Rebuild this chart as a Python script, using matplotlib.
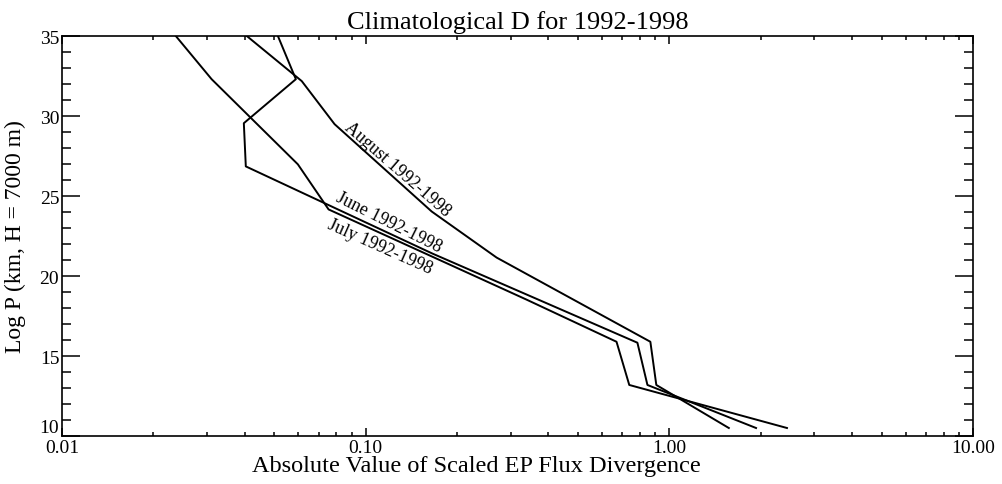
import numpy as np
import matplotlib.pyplot as plt
from matplotlib.ticker import FixedLocator, FixedFormatter, MultipleLocator, LogLocator, NullFormatter

plt.rcParams['font.family'] = ['Liberation Serif', 'DejaVu Serif']

# |scaled EP flux divergence| against log-pressure height
june_d = [0.0514, 0.0589, 0.0397, 0.0403, 0.166, 0.785, 0.847, 1.93]
june_z = [35.0, 32.3, 29.55, 26.85, 21.4, 15.83, 13.19, 10.5]

july_d = [0.0237, 0.0311, 0.0598, 0.0755, 0.339, 0.670, 0.738, 2.44]
july_z = [35.0, 32.3, 26.98, 24.16, 18.52, 15.89, 13.19, 10.5]

aug_d = [0.0406, 0.0616, 0.079, 0.165, 0.270, 0.866, 0.906, 1.57]
aug_z = [35.0, 32.18, 29.49, 24.03, 21.15, 15.89, 13.19, 10.5]

x_ticks = [0.01, 0.1, 1.0, 10.0]
x_ticklabels = ['0.01', '0.10', '1.00', '10.00']
y_ticks = [10, 15, 20, 25, 30, 35]

fig = plt.figure(figsize=(10.03, 4.85), dpi=100)
ax = fig.add_axes([62 / 1003, 1 - 437 / 485, 911 / 1003, 400 / 485])

for d, z in [(june_d, june_z), (july_d, july_z), (aug_d, aug_z)]:
    ax.plot(d, z, color='black', lw=1.4)

ax.set_xscale('log')
ax.set_xlim(0.01, 10.0)
ax.set_ylim(10, 35)

ax.xaxis.set_major_locator(FixedLocator(x_ticks))
ax.xaxis.set_major_formatter(FixedFormatter(x_ticklabels))
ax.xaxis.set_minor_locator(LogLocator(base=10, subs=np.arange(2, 10)))
ax.xaxis.set_minor_formatter(NullFormatter())
ax.yaxis.set_major_locator(FixedLocator(y_ticks))
ax.yaxis.set_minor_locator(MultipleLocator(1))

ax.tick_params(which='both', direction='in', top=True, right=True, width=1.1,
               labelsize=14, pad=2)
ax.tick_params(axis='y', which='major', length=13)
ax.tick_params(axis='y', which='minor', length=6.5)
ax.tick_params(axis='x', which='major', length=5.5)
ax.tick_params(axis='x', which='minor', length=3)
for s in ax.spines.values():
    s.set_linewidth(1.2)

# lift the bottom y label clear of the "0.01" below it
fig.canvas.draw()
ax.get_yticklabels()[0].set_verticalalignment('bottom')

ax.set_title('Climatological D for 1992-1998', fontsize=19, pad=6)
ax.set_xlabel('Absolute Value of Scaled EP Flux Divergence', fontsize=17.5)
ax.xaxis.set_label_coords(0.455, -0.047)
ax.set_ylabel('Log P (km, H = 7000 m)', fontsize=17)
ax.yaxis.set_label_coords(-0.040, 0.5)

ax.text(0.127, 26.69, 'August 1992-1998', rotation=-41, ha='center', va='center', fontsize=13)
ax.text(0.119, 23.4, 'June 1992-1998', rotation=-26.5, ha='center', va='center', fontsize=13)
ax.text(0.111, 21.85, 'July 1992-1998', rotation=-24, ha='center', va='center', fontsize=13)

fig.savefig('out.png', dpi=100)
